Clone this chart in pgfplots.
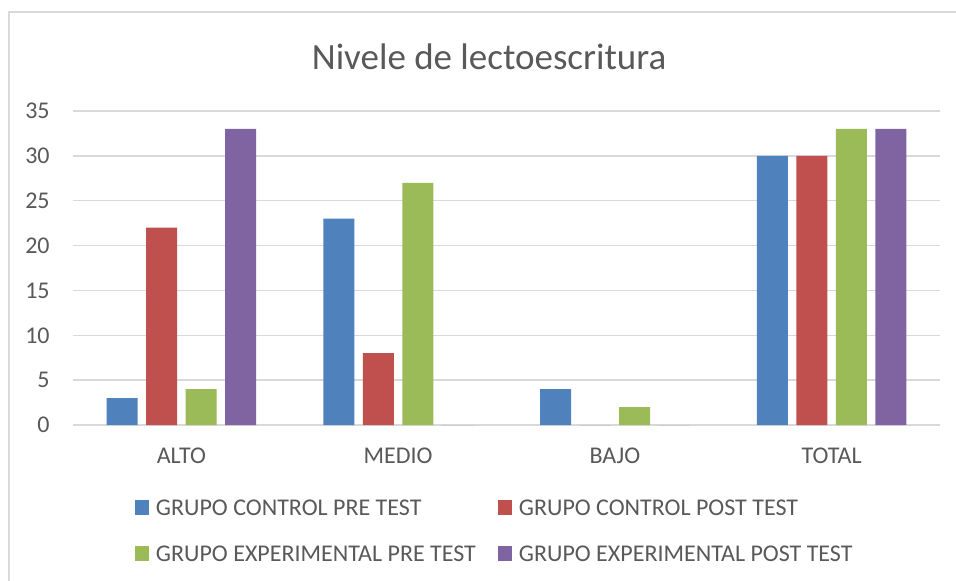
\documentclass[border=0pt]{standalone}
\usepackage{fontspec}
\setmainfont{Carlito}
\usepackage{pgfplots}
\pgfplotsset{compat=1.18}
\definecolor{c1}{HTML}{4F81BD}
\definecolor{c2}{HTML}{C0504D}
\definecolor{c3}{HTML}{9BBB59}
\definecolor{c4}{HTML}{8064A2}
\definecolor{txt}{HTML}{595959}
\definecolor{gridc}{HTML}{D9D9D9}
\begin{document}
\begin{tikzpicture}[x=0.5pt,y=0.5pt]
\useasboundingbox (0,0) rectangle (956,580);
\clip (0,0) rectangle (956,580);
\fill[white] (0,0) rectangle (956,580);
\draw[gridc, line width=1pt] (8.5,567.5) rectangle (970,-20);
\node[anchor=base, text=txt, inner sep=0pt, font=\fontsize{18.5}{22}\selectfont] at (489,511) {Nivele de lectoescritura};
\begin{axis}[
 at={(36.5pt,77.5pt)}, anchor=south west,
 scale only axis, width=433.5pt, height=157pt,
 xmin=-0.5, xmax=3.5, ymin=0, ymax=35,
 ytick={0,5,...,35},
 xtick={0,1,2,3}, xticklabels={ALTO,MEDIO,BAJO,TOTAL},
 ybar=4.25pt, bar width=15.5pt,
 axis line style={draw=none},
 major tick length=0pt,
 ymajorgrids, grid style={gridc, line width=0.75pt},
 tick label style={text=txt, font=\fontsize{12}{14.4}\selectfont},
 /pgf/number format/assume math mode=true,
 yticklabel style={anchor=east, inner sep=0pt, xshift=-11.5pt},
 xticklabel style={anchor=base, inner sep=0pt, yshift=-19pt},
 legend style={draw=none, fill=none, at={(axis description cs:0.0715,-0.189)}, anchor=north west,
   inner sep=0pt, outer sep=0pt, row sep=0pt,
   nodes={text=txt, font=\fontsize{12}{14.4}\selectfont, inner sep=0pt, text height=7.7pt, text depth=0pt},
   /tikz/every odd column/.append style={column sep=3.5pt},
   /tikz/every even column/.append style={column sep=11pt}},
 legend columns=2,
 legend cell align=left,
 legend image code/.code={\path[fill=none,draw=none] (0pt,-11.5pt) rectangle (7pt,11.5pt);\fill[#1] (0pt,-3.7pt) rectangle (7pt,3.7pt);},
]
\addplot[fill=c1, draw=none] coordinates {(0,3) (1,23) (2,4) (3,30)};
\addplot[fill=c2, draw=none] coordinates {(0,22) (1,8) (2,0) (3,30)};
\addplot[fill=c3, draw=none] coordinates {(0,4) (1,27) (2,2) (3,33)};
\addplot[fill=c4, draw=none] coordinates {(0,33) (1,0) (2,0) (3,33)};
\legend{GRUPO CONTROL PRE TEST, GRUPO CONTROL POST TEST, GRUPO EXPERIMENTAL PRE TEST, GRUPO EXPERIMENTAL POST TEST}
\end{axis}
\end{tikzpicture}
\end{document}
